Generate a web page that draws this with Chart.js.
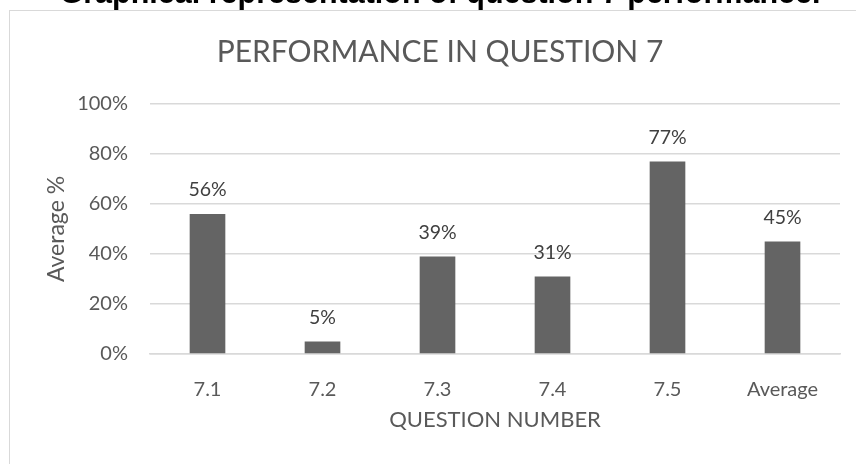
<!DOCTYPE html>
<html>
<head>
<meta charset="utf-8">
<script src="https://cdn.jsdelivr.net/npm/chart.js@4/dist/chart.umd.min.js"></script>
<style>
  html, body { margin: 0; padding: 0; background: #fff; overflow: hidden; }
  body { width: 856px; height: 464px; position: relative; }
  #frame { position: absolute; left: 9px; top: 10px; width: 900px; height: 500px; border: 1.5px solid #d9d9d9; }
  #heading { position: absolute; left: 0; width: 880px; top: -23px; text-align: center; font: bold 30.5px/30.5px "Liberation Sans", Arial, sans-serif; color: #000; z-index: 2; white-space: nowrap; }
  #chart { position: absolute; left: 0; top: 0; }
</style>
</head>
<body>
<div id="frame"></div>
<div id="heading">Graphical representation of question 7 performance.</div>
<canvas id="chart" width="856" height="464"></canvas>
<script>
const questions = ["7.1", "7.2", "7.3", "7.4", "7.5", "Average"];
const averages = [56, 5, 39, 31, 77, 45];
const yTicks = [0, 20, 40, 60, 80, 100];

const grey = "#595959";
const font = "Lato, 'Open Sans', sans-serif";

// labels above the bars
const barLabels = {
  id: "barLabels",
  afterDatasetsDraw(chart) {
    const ctx = chart.ctx;
    ctx.save();
    ctx.font = "19.5px " + font;
    ctx.fillStyle = "#404040";
    ctx.textAlign = "center";
    ctx.textBaseline = "middle";
    chart.getDatasetMeta(0).data.forEach((bar, i) => {
      ctx.fillText(averages[i] + "%", bar.x, bar.y - 24);
    });
    ctx.restore();
  },
};

const ctx = document.querySelector("#chart").getContext("2d");

const myChart = new Chart(ctx, {
  type: "bar",
  data: {
    labels: questions,
    datasets: [
      {
        label: "Average %",
        data: averages,
        backgroundColor: "#646464",
        barPercentage: 0.31,
        categoryPercentage: 1,
      },
    ],
  },
  options: {
    responsive: false,
    animation: false,
    layout: { padding: { left: 40, right: 16, top: 0, bottom: 0 } },
    plugins: {
      legend: { display: false },
      tooltip: { enabled: false },
      title: {
        display: true,
        text: "PERFORMANCE IN QUESTION 7",
        color: grey,
        font: { family: font, size: 30, weight: "normal", lineHeight: 1.2 },
        padding: { top: 34, bottom: 34 },
      },
    },
    scales: {
      x: {
        afterFit: (s) => { s.height = 110; },
        grid: { display: false },
        border: { display: true, color: "#d9d9d9", width: 1.5 },
        ticks: { color: grey, padding: 16, font: { family: font, size: 20 } },
        title: {
          display: true,
          text: "QUESTION NUMBER",
          color: grey,
          font: { family: font, size: 22 },
          padding: { top: 0, bottom: 30.8 },
        },
      },
      y: {
        min: 0,
        max: 100,
        afterFit: (s) => { s.width = 110; },
        afterBuildTicks: (s) => { s.ticks = yTicks.map((v) => ({ value: v })); },
        grid: { color: "#d9d9d9", lineWidth: 1.5, drawTicks: false },
        border: { display: false },
        ticks: {
          color: grey,
          padding: 22,
          font: { family: font, size: 20 },
          callback: function (value) {
            return `${value}%`;
          },
        },
        title: {
          display: true,
          text: "Average %",
          color: grey,
          font: { family: font, size: 23 },
          padding: { top: 3.2, bottom: 0 },
        },
      },
    },
  },
  plugins: [barLabels],
});
</script>
</body>
</html>
